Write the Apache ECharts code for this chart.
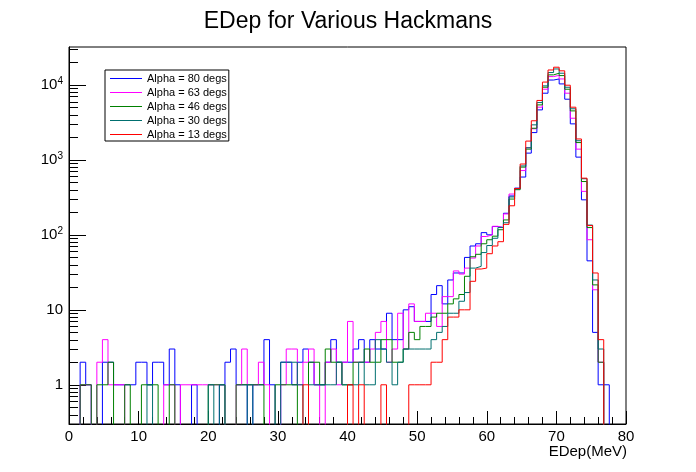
<!DOCTYPE html>
<html>
<head>
<meta charset="utf-8">
<script src="https://cdn.jsdelivr.net/npm/echarts@6/dist/echarts.min.js"></script>
<style>html,body{margin:0;padding:0;background:#fff}#c{width:696px;height:472px}</style>
</head>
<body>
<div id="c"></div>
<script>
// Histogram: 100 bins of 0.8 MeV from 0 to 80 MeV
const binWidth = 0.8;
const seriesNames = ["Alpha = 80 degs", "Alpha = 63 degs", "Alpha = 46 degs", "Alpha = 30 degs", "Alpha = 13 degs"];
const seriesColors = ["#0000ff", "#ff00ff", "#008000", "#006f6f", "#ff0000"];

const alpha80 = [
  0,0,2,1,0,0,2,2,1,1,
  1,1,2,2,1,2,2,1,3,1,
  0,0,1,0,0,0,0,1,2,3,
  1,1,0,1,1,4,1,0,2,2,
  1,2,3,2,1,1,2,4,2,2,
  2,3,4,2,4,3,3,9,4,4,
  10,11,7,7,7,16,21,12,25,31,
  31,50,71,76,107,100,129,125,194,330,
  420,590,1230,2310,4640,7740,11600,12000,10300,6440,
  3020,1087,293,45,5,1,1,0,0,0];
const alpha63 = [
  0,0,1,1,0,2,4,1,1,1,
  0,0,0,0,0,0,0,1,1,0,
  1,1,1,1,1,1,1,1,0,0,
  1,3,1,1,2,1,0,0,1,3,
  3,1,2,3,1,0,2,3,1,2,
  7,2,2,2,3,5,7,2,3,9,
  3,12,7,7,9,9,6,15,15,33,
  30,36,49,71,95,100,130,125,190,350,
  410,720,1450,2600,5040,8750,12900,13400,12000,7740,
  3590,1390,380,86,18.5,2,0,0,0,0];
const alpha46 = [
  0,0,1,1,0,1,1,2,0,0,
  1,0,0,1,1,1,0,0,1,0,
  0,0,0,0,0,1,1,1,0,0,
  1,1,1,1,1,0,0,1,1,1,
  1,0,0,2,2,1,3,2,2,1,
  1,2,2,3,2,2,4,4,2,2,
  3,5,4,6,6,8,9,9,12,14,
  16,28,51,55,76,86,96,117,158,300,
  400,800,1390,2640,5410,9310,13600,14300,13300,8750,
  4500,1700,514,125,21.5,2,0,0,0,0];
const alpha30 = [
  0,0,0,0,0,0,0,0,0,0,
  0,0,0,0,1,0,0,0,0,0,
  0,0,0,0,0,1,0,1,0,0,
  0,0,1,0,0,0,0,0,2,2,
  2,1,0,1,1,1,1,1,2,1,
  1,1,2,1,1,4,3,2,1,2,
  3,3,3,3,3,4,5,6,9,9,
  13,17,36,38,58,72,90,125,145,320,
  410,830,1450,2930,5810,9700,14600,16300,14300,9300,
  4800,1800,560,135,25,3,0,0,0,0];
const alpha13 = [
  0,0,0,0,0,0,0,0,0,0,
  0,0,0,0,0,0,0,0,0,0,
  0,0,0,0,0,0,0,0,0,0,
  0,0,0,0,0,0,0,0,0,0,
  0,0,1,0,0,0,0,0,0,0,
  1,0,1,0,0,0,1,0,0,0,
  0,1,1,1,1,2,2,4,8,8,
  10,10,24,35,36,56,71,81,138,244,
  415,880,1780,3320,6200,10900,15800,17200,15400,9900,
  5040,1900,570,133,31,4,0,0,0,0];

const xTicks = [0,10,20,30,40,50,60,70,80];
const yMin = 0.3, yMax = 32000;
const yMinorTicks = [0.4,0.5,0.6,0.7,0.8,0.9,2,3,4,5,6,7,8,9,20,30,40,50,60,70,80,90,
  200,300,400,500,600,700,800,900,2000,3000,4000,5000,6000,7000,8000,9000,20000,30000];

const allData = [alpha80, alpha63, alpha46, alpha30, alpha13];
const FONT = "'Liberation Sans', Arial, sans-serif";

function toSteps(arr) {
  const pts = arr.map((v, i) => [i * binWidth, v > 0 ? v : 0.001]);
  pts.push([arr.length * binWidth, arr[arr.length - 1] > 0 ? arr[arr.length - 1] : 0.001]);
  return pts;
}

const lineSeries = allData.map((arr, k) => ({
  name: seriesNames[k],
  type: 'line',
  step: 'end',
  color: seriesColors[k],
  data: toSteps(arr),
  showSymbol: false,
  symbol: 'none',
  clip: true,
  lineStyle: { color: seriesColors[k], width: 1 },
  itemStyle: { color: seriesColors[k] },
  animation: false,
  z: 2 + k
}));

const minorTickSeries = {
  type: 'custom',
  data: yMinorTicks.map(v => [0, v]),
  encode: { x: 0, y: 1 },
  silent: true,
  animation: false,
  z: 10,
  renderItem: function (params, api) {
    const p = api.coord([0, api.value(1)]);
    return { type: 'line', shape: { x1: p[0], y1: Math.round(p[1]) + 0.5, x2: p[0] + 9, y2: Math.round(p[1]) + 0.5 },
      style: { stroke: '#000', lineWidth: 1 } };
  }
};

// legend sample lines (drawn as graphics over the legend box)
const legendBox = { left: 105, top: 70, rowH: 14, firstRow: 78.5, x1: 110, x2: 142 };
const legendLines = seriesColors.map((c, k) => ({
  type: 'line', z: 100, silent: true,
  shape: { x1: legendBox.x1, y1: legendBox.firstRow + k * legendBox.rowH, x2: legendBox.x2, y2: legendBox.firstRow + k * legendBox.rowH },
  style: { stroke: c, lineWidth: 1 }
}));

const chart = echarts.init(document.getElementById('c'), null, { renderer: 'canvas' });
chart.setOption({
  backgroundColor: '#fff',
  animation: false,
  title: {
    text: 'EDep for Various Hackmans',
    left: 'center',
    top: 5,
    textStyle: { fontFamily: FONT, fontSize: 23, fontWeight: 'normal', color: '#000' }
  },
  legend: {
    data: seriesNames,
    orient: 'vertical',
    left: legendBox.left,
    top: legendBox.top,
    padding: [2, 2, 0, 5],
    itemGap: 1,
    itemWidth: 32,
    itemHeight: 1,
    icon: 'rect',
    itemStyle: { opacity: 0, borderWidth: 0 },
    lineStyle: { opacity: 0, width: 0 },
    backgroundColor: '#fff',
    borderColor: '#000',
    borderWidth: 1,
    borderRadius: 0,
    textStyle: { fontFamily: FONT, fontSize: 11, color: '#000', lineHeight: 13 }
  },
  grid: { left: 69, right: 70, top: 47, bottom: 48, show: true, borderColor: '#000', borderWidth: 1, backgroundColor: 'transparent' },
  xAxis: {
    type: 'value', min: xTicks[0], max: xTicks[xTicks.length - 1], interval: 10,
    axisLine: { show: true, onZero: false, lineStyle: { color: '#000', width: 1 } },
    axisTick: { show: true, inside: true, length: 13, lineStyle: { color: '#000' } },
    minorTick: { show: true, splitNumber: 5, length: 7, lineStyle: { color: '#000' } },
    splitLine: { show: false },
    axisLabel: { color: '#000', fontFamily: FONT, fontSize: 15, margin: 5 }
  },
  yAxis: {
    type: 'log', logBase: 10, min: yMin, max: yMax,
    axisLine: { show: true, lineStyle: { color: '#000', width: 1 } },
    axisTick: { show: true, inside: true, length: 17, lineStyle: { color: '#000' } },
    splitLine: { show: false },
    axisLabel: {
      color: '#000', fontFamily: FONT, fontSize: 15, margin: 6,
      showMinLabel: false, showMaxLabel: false,
      formatter: function (v) {
        const e = Math.log10(v);
        if (Math.abs(e - Math.round(e)) > 1e-6) return '';
        const n = Math.round(e);
        if (n === 0) return '1';
        if (n === 1) return '10';
        return '10{sup|' + n + '}';
      },
      rich: { sup: { fontFamily: FONT, fontSize: 10, color: '#000', padding: [0, 0, 8, 0] } }
    }
  },
  graphic: [{
    type: 'text', right: 69, top: 444,
    style: { text: 'EDep(MeV)', fontFamily: FONT, fontSize: 15, fill: '#000', textAlign: 'right' }
  }].concat(legendLines),
  series: lineSeries.concat([minorTickSeries])
});
</script>
</body>
</html>
